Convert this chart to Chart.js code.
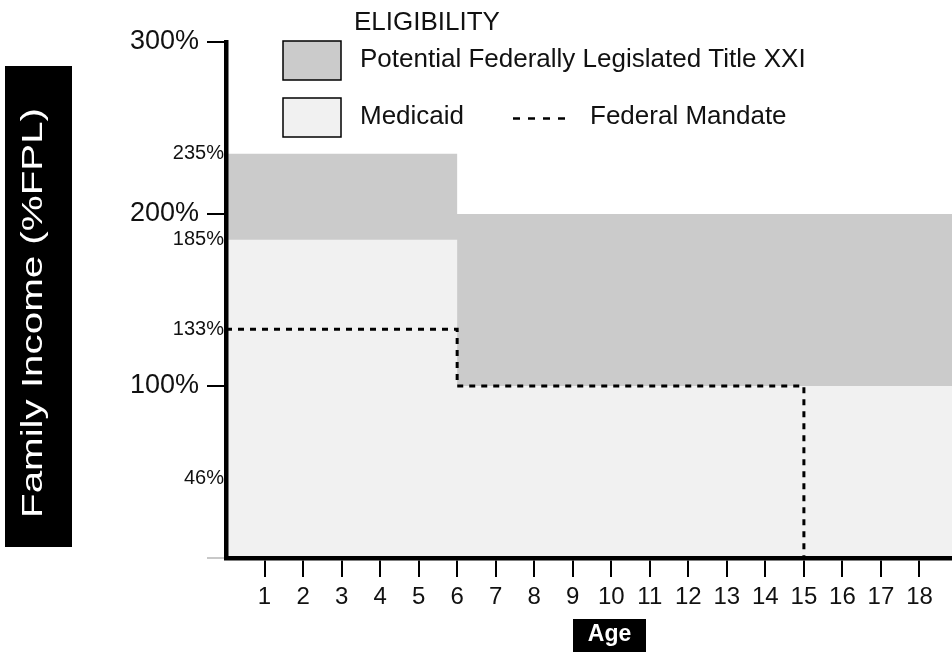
<!DOCTYPE html>
<html>
<head>
<meta charset="utf-8">
<script src="https://cdn.jsdelivr.net/npm/chart.js@4.4.1/dist/chart.umd.min.js"></script>
<style>
  html, body { margin: 0; padding: 0; background: #fff; overflow: hidden; }
  canvas { display: block; }
</style>
</head>
<body>
<canvas id="eligibilityCanvas" width="962" height="652"></canvas>
<script>
// Eligibility levels (% of FPL), each starting at the given age
const stepAges = [0, 6, 19];
const titleXXI = [235, 200, 200];
const medicaid = [185, 100, 100];

// Federal mandate: 133% under 6, 100% from 6 to 15, nothing after
const mandateAges = [0, 6, 15];
const federalMandate = [133, 100, 0];

const ageTicks = [1, 2, 3, 4, 5, 6, 7, 8, 9, 10, 11, 12, 13, 14, 15, 16, 17, 18];
const incomeTicks = [0, 100, 200, 300];
const incomeMarks = [235, 185, 133, 46];

const FONT = '"Liberation Sans", Arial, Helvetica, sans-serif';
const DARK_GRAY = "#cbcbcb";
const LIGHT_GRAY = "#f1f1f1";
const INK = "#111111";

function toPoints(xs, ys) {
    return xs.map((x, i) => ({ x: x, y: ys[i] }));
}

// Axis titles, level labels and the legend block are drawn on top
const decorations = {
    id: "decorations",
    afterDraw(chart) {
        const ctx = chart.ctx;
        const area = chart.chartArea;
        const yScale = chart.scales.y;
        const sets = chart.data.datasets;
        ctx.save();

        // small level labels against the axis
        ctx.fillStyle = INK;
        ctx.font = `20px ${FONT}`;
        ctx.textAlign = "right";
        ctx.textBaseline = "middle";
        incomeMarks.forEach((v) => {
            ctx.fillText(v + "%", area.left - 2, yScale.getPixelForValue(v));
        });

        // y title, white on black, reading upwards
        ctx.fillStyle = "#000";
        ctx.fillRect(5, 66, 67, 481);
        ctx.save();
        ctx.translate(42, 313);
        ctx.rotate(-Math.PI / 2);
        ctx.font = `30px ${FONT}`;
        ctx.textAlign = "center";
        ctx.textBaseline = "alphabetic";
        const yTitle = "Family Income (%FPL)";
        const stretch = 410 / ctx.measureText(yTitle).width;
        ctx.scale(stretch, 1);
        ctx.fillStyle = "#fff";
        ctx.fillText(yTitle, 0, 0);
        ctx.restore();

        // x title
        ctx.fillStyle = "#000";
        ctx.fillRect(573, 619, 73, 40);
        ctx.fillStyle = "#fff";
        ctx.font = `bold 23px ${FONT}`;
        ctx.textAlign = "center";
        ctx.textBaseline = "alphabetic";
        ctx.fillText("Age", 609.5, 641);

        // legend
        ctx.fillStyle = INK;
        ctx.font = `26px ${FONT}`;
        ctx.textAlign = "left";
        ctx.fillText("ELIGIBILITY", 354, 30);

        ctx.lineWidth = 1.5;
        ctx.strokeStyle = "#000";
        ctx.fillStyle = sets[1].backgroundColor;
        ctx.fillRect(283, 41, 58, 39);
        ctx.strokeRect(283, 41, 58, 39);
        ctx.fillStyle = sets[0].backgroundColor;
        ctx.fillRect(283, 98, 58, 39);
        ctx.strokeRect(283, 98, 58, 39);

        ctx.fillStyle = INK;
        ctx.fillText(sets[1].label, 360, 67);
        ctx.fillText(sets[0].label, 360, 124);
        ctx.fillText(sets[2].label, 590, 124);

        ctx.beginPath();
        ctx.setLineDash([7, 8]);
        ctx.lineWidth = 2.7;
        ctx.moveTo(513, 118.5);
        ctx.lineTo(565, 118.5);
        ctx.stroke();

        ctx.restore();
    },
};

const ctx = document.getElementById("eligibilityCanvas").getContext("2d");
const eligibilityChart = new Chart(ctx, {
    type: "line",
    data: {
        datasets: [
            {
                label: "Medicaid",
                data: toPoints(stepAges, medicaid),
                stepped: "before",
                fill: "origin",
                backgroundColor: LIGHT_GRAY,
                borderColor: "rgba(0,0,0,0)",
                borderWidth: 0,
                pointRadius: 0,
                order: 1,
            },
            {
                label: "Potential Federally Legislated Title XXI",
                data: toPoints(stepAges, titleXXI),
                stepped: "before",
                fill: "origin",
                backgroundColor: DARK_GRAY,
                borderColor: "rgba(0,0,0,0)",
                borderWidth: 0,
                pointRadius: 0,
                order: 2,
            },
            {
                label: "Federal Mandate",
                data: toPoints(mandateAges, federalMandate),
                stepped: "before",
                fill: false,
                borderColor: "#000",
                borderWidth: 3,
                borderDash: [6, 6],
                pointRadius: 0,
                order: 0,
            },
        ],
    },
    options: {
        responsive: false,
        animation: false,
        layout: {
            padding: { top: 42, right: 4, left: 0, bottom: 0 },
        },
        plugins: {
            legend: { display: false },
            tooltip: { enabled: false },
        },
        scales: {
            x: {
                type: "linear",
                min: 0,
                max: 19,
                afterBuildTicks: (scale) => {
                    scale.ticks = ageTicks.map((v) => ({ value: v }));
                },
                afterFit: (scale) => {
                    scale.height = 94;
                },
                ticks: {
                    color: INK,
                    font: { family: FONT, size: 24 },
                    padding: 6,
                    maxRotation: 0,
                    autoSkip: false,
                },
                grid: {
                    drawOnChartArea: false,
                    tickLength: 19,
                    tickWidth: 2,
                    lineWidth: 2,
                    tickColor: "#000",
                },
                border: { color: "#000", width: 4.5, z: 1 },
            },
            y: {
                min: 0,
                max: 300,
                afterBuildTicks: (scale) => {
                    scale.ticks = incomeTicks.map((v) => ({ value: v }));
                },
                afterFit: (scale) => {
                    scale.width = 226;
                },
                ticks: {
                    color: INK,
                    font: { family: FONT, size: 27 },
                    padding: 8,
                    callback: (v) => (v === 0 ? "" : v + "%"),
                },
                grid: {
                    drawOnChartArea: false,
                    tickLength: 19,
                    tickWidth: 2,
                    lineWidth: 2,
                    tickColor: (c) => (c.tick && c.tick.value === 0 ? "#c8c8c8" : "#000"),
                },
                border: { color: "#000", width: 4.5, z: 1 },
            },
        },
    },
    plugins: [decorations],
});
</script>
</body>
</html>
